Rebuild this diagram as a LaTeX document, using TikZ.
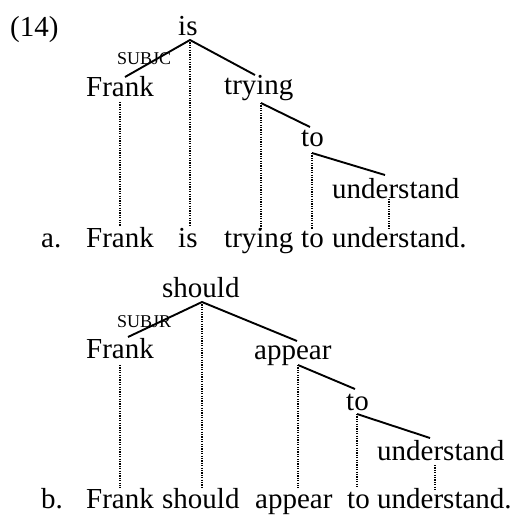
\documentclass[tikz,border=0pt]{standalone}
\usepackage{fontspec}
\setmainfont{Liberation Serif}
\begin{document}
\begin{tikzpicture}[x=1pt,y=-1pt,
  word/.style={anchor=base west,inner sep=0pt,font=\fontsize{29}{34}\selectfont},
  rel/.style={anchor=base west,inner sep=0pt,font=\fontsize{18}{21}\selectfont},
  edge/.style={line width=1.9pt},
  proj/.style={line width=1.7pt,dash pattern=on 1.2pt off 1.2pt}]
\useasboundingbox (0,0) rectangle (515,515);
% ---------- (14a) ----------
\node[word] (num) at (10,36) {(14)};
\node[word] (is) at (178,35) {is};
\node[rel] (subjc) at (117,64) {SUBJC};
\node[word] (frankA) at (86,96) {Frank};
\node[word] (tryingA) at (224,94) {trying};
\node[word] (toA) at (301,146) {to};
\node[word] (undA) at (332,198) {understand};
\node[word] (la) at (41,247) {a.};
\node[word] (sFrankA) at (86,247) {Frank};
\node[word] (sIsA) at (178,247) {is};
\node[word] (sTryA) at (224,247) {trying};
\node[word] (sToA) at (301,247) {to};
\node[word] (sUndA) at (332,247) {understand.};
\coordinate (isT) at (190,40);
\coordinate (frankAT) at (125,77);
\coordinate (tryingAT) at (255,75);
\coordinate (tryingAB) at (261,103);
\coordinate (toAT) at (310,127);
\coordinate (toAB) at (312,153);
\coordinate (undAT) at (385,175);
\coordinate (undAB) at (389,199);
\coordinate (frankAB) at (120,102);
\draw[edge] (frankAT) -- (isT) -- (tryingAT);
\draw[edge] (tryingAB) -- (toAT);
\draw[edge] (toAB) -- (undAT);
\draw[proj] (frankAB) -- (120,226) coordinate (fa1);
\draw[proj] (isT) -- (190,226) coordinate (ia1);
\draw[proj] (tryingAB) -- (261,229) coordinate (ta1);
\draw[proj] (toAB) -- (312,229) coordinate (oa1);
\draw[proj] (undAB) -- (389,228) coordinate (ua1);
% ---------- (14b) ----------
\node[word] (should) at (162,297) {should};
\node[rel] (subjr) at (117,327) {SUBJR};
\node[word] (frankB) at (86,358) {Frank};
\node[word] (appear) at (254,359) {appear};
\node[word] (toB) at (346,410) {to};
\node[word] (undB) at (377,460) {understand};
\node[word] (lb) at (41,508) {b.};
\node[word] (sFrankB) at (86,508) {Frank};
\node[word] (sShould) at (162,508) {should};
\node[word] (sAppear) at (255,508) {appear};
\node[word] (sToB) at (347,508) {to};
\node[word] (sUndB) at (377,508) {understand.};
\coordinate (shouldT) at (202,302);
\coordinate (frankBT) at (128,337);
\coordinate (appearT) at (297,341);
\coordinate (appearB) at (298,365);
\coordinate (toBT) at (355,389);
\coordinate (toBB) at (357,414);
\coordinate (undBT) at (430,438);
\coordinate (undBB) at (435,465);
\coordinate (frankBB) at (120,365);
\draw[edge] (frankBT) -- (shouldT) -- (appearT);
\draw[edge] (appearB) -- (toBT);
\draw[edge] (toBB) -- (undBT);
\draw[proj] (frankBB) -- (120,488) coordinate (fb1);
\draw[proj] (shouldT) -- (202,487) coordinate (sb1);
\draw[proj] (appearB) -- (298,488) coordinate (ab1);
\draw[proj] (toBB) -- (357,488) coordinate (ob1);
\draw[proj] (undBB) -- (435,491) coordinate (ub1);
\end{tikzpicture}
\end{document}
